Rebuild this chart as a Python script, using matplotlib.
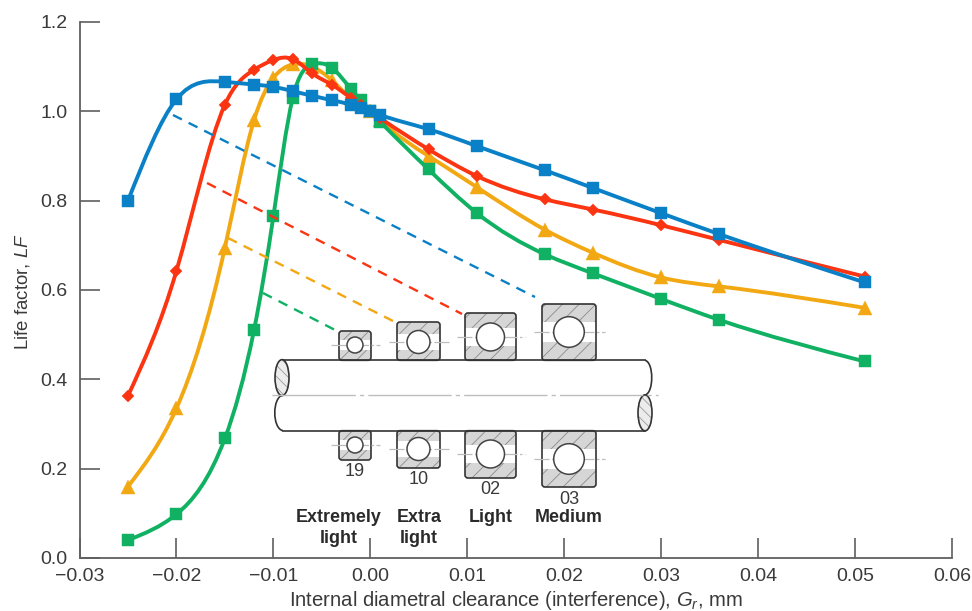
import matplotlib
matplotlib.use("Agg")
import numpy as np
import matplotlib.pyplot as plt
from matplotlib.path import Path
from matplotlib.patches import PathPatch, FancyBboxPatch, Rectangle, Circle, Ellipse

plt.rcParams['font.family'] = ['Liberation Sans', 'DejaVu Sans']
plt.rcParams['mathtext.fontset'] = 'custom'
plt.rcParams['mathtext.rm'] = 'Liberation Sans'
plt.rcParams['mathtext.it'] = 'Liberation Sans:italic'
plt.rcParams['hatch.linewidth'] = 0.6

x_blue = [-0.025, -0.02, -0.015, -0.012, -0.01, -0.008, -0.006, -0.004, -0.002, -0.001, 0.0, 0.001, 0.006, 0.011, 0.018, 0.023, 0.03, 0.036, 0.051]
blue = [0.80, 1.027, 1.066, 1.06, 1.055, 1.045, 1.035, 1.025, 1.015, 1.008, 1.0, 0.992, 0.96, 0.922, 0.868, 0.828, 0.772, 0.725, 0.617]
x_red = x_blue
red = [0.363, 0.643, 1.015, 1.093, 1.115, 1.117, 1.085, 1.06, 1.03, 1.015, 1.0, 0.985, 0.915, 0.855, 0.803, 0.78, 0.745, 0.712, 0.63]
x_yellow = [-0.025, -0.02, -0.015, -0.012, -0.01, -0.008, -0.006, -0.004, -0.002, 0.0, 0.001, 0.006, 0.011, 0.018, 0.023, 0.03, 0.036, 0.051]
yellow = [0.16, 0.335, 0.695, 0.98, 1.075, 1.105, 1.10, 1.07, 1.03, 1.0, 0.98, 0.90, 0.83, 0.735, 0.683, 0.628, 0.608, 0.56]
x_green = x_blue
green = [0.04, 0.098, 0.268, 0.51, 0.765, 1.03, 1.105, 1.098, 1.05, 1.025, 1.0, 0.977, 0.87, 0.772, 0.68, 0.637, 0.58, 0.533, 0.44]
x_ticks = [-0.03, -0.02, -0.01, 0.0, 0.01, 0.02, 0.03, 0.04, 0.05, 0.06]
y_ticks = [0.0, 0.2, 0.4, 0.6, 0.8, 1.0, 1.2]
bearing_codes = ['19', '10', '02', '03']

C_BLUE, C_RED, C_YEL, C_GRN = '#0a80c6', '#fb3412', '#f2a813', '#10b163'
AXC = '#5f5f5f'
TXT = '#3a3a3a'

W, H = 972, 611
fig = plt.figure(figsize=(W / 100, H / 100), dpi=100, facecolor='white')
ax = fig.add_axes([79.5 / W, (H - 558) / H, (952 - 79.5) / W, (558 - 22) / H])


def smooth_path(x, y):
    # C2 natural cubic spline through the points, written as Bezier segments
    x, y = np.asarray(x), np.asarray(y)
    n = len(x)
    dx = np.diff(x)
    s = np.diff(y) / dx
    A = np.zeros((n, n))
    b = np.zeros(n)
    A[0, 0] = A[-1, -1] = 1.0
    for i in range(1, n - 1):
        A[i, i - 1] = dx[i - 1]
        A[i, i] = 2 * (dx[i - 1] + dx[i])
        A[i, i + 1] = dx[i]
        b[i] = 6 * (s[i] - s[i - 1])
    k = np.linalg.solve(A, b)
    m = np.empty(n)
    m[:-1] = s - dx * (2 * k[:-1] + k[1:]) / 6
    m[-1] = s[-1] + dx[-1] * (k[-2] + 2 * k[-1]) / 6
    verts, codes = [(x[0], y[0])], [Path.MOVETO]
    for i in range(n - 1):
        h = dx[i] / 3
        verts += [(x[i] + h, y[i] + m[i] * h), (x[i + 1] - h, y[i + 1] - m[i + 1] * h), (x[i + 1], y[i + 1])]
        codes += [Path.CURVE4] * 3
    return Path(verts, codes)


series = [(x_yellow, yellow, C_YEL, '^', 10), (x_green, green, C_GRN, 's', 9),
          (x_red, red, C_RED, 'D', 6.6), (x_blue, blue, C_BLUE, 's', 9)]
for i, (xs, ys, c, mk, ms) in enumerate(series):
    ax.add_patch(PathPatch(smooth_path(xs, ys), fc='none', ec=c, lw=2.8, zorder=3 + i, capstyle='round'))
    ax.plot(xs, ys, ls='none', marker=mk, ms=ms, mfc=c, mec=c, mew=0.3, zorder=3 + i)

ax.set_xlim(-0.03, 0.06)
ax.set_ylim(0, 1.2)
ax.set_xticks(x_ticks)
ax.set_yticks(y_ticks)
ax.set_xticklabels([f'{v:.2f}'.replace('-', '\u2212') for v in x_ticks])
ax.set_yticklabels([f'{v:.1f}' for v in y_ticks])
ax.tick_params(axis='both', direction='in', length=14.4, width=1.2, color=AXC, labelsize=14, labelcolor=TXT)
ax.tick_params(axis='x', pad=7)
ax.tick_params(axis='y', pad=8.5)
for sp in ('top', 'right'):
    ax.spines[sp].set_visible(False)
for sp in ('left', 'bottom'):
    ax.spines[sp].set_color(AXC)
    ax.spines[sp].set_linewidth(1.3)
ax.patch.set_visible(False)

# schematic overlay, in figure pixels
ov = fig.add_axes([0, 0, 1, 1])
ov.set_xlim(0, W)
ov.set_ylim(H, 0)
ov.axis('off')
ov.patch.set_visible(False)

dashes = [((173, 115), (535, 297), C_BLUE), ((207, 183), (462, 314), C_RED),
          ((228, 238), (393, 321), C_YEL), ((263, 293), (337, 331), C_GRN)]
for a, b, c in dashes:
    ov.plot([a[0], b[0]], [a[1], b[1]], color=c, lw=1.7, dashes=(4.2, 3.2))

# shaft
OUT = '#333333'
SH_T, SH_B, SH_C = 360.3, 430.7, 395
SH_L, SH_R = 283, 645
shaft = Path([(SH_L, SH_T), (SH_R, SH_T), (SH_R + 9, SH_T + 2), (SH_R + 9, SH_C - 2), (SH_R, SH_C),
              (SH_R, SH_B), (SH_L, SH_B), (SH_L - 11, SH_B - 2), (SH_L - 11, SH_C + 2), (SH_L, SH_C), (SH_L, SH_T)],
             [Path.MOVETO, Path.LINETO, Path.CURVE4, Path.CURVE4, Path.CURVE4,
              Path.LINETO, Path.LINETO, Path.CURVE4, Path.CURVE4, Path.CURVE4, Path.LINETO])
ov.add_patch(PathPatch(shaft, fc='white', ec='none', zorder=5))
ov.plot([SH_L, SH_R], [SH_T, SH_T], color=OUT, lw=1.2, zorder=6)
ov.plot([SH_L, SH_R], [SH_B, SH_B], color=OUT, lw=1.2, zorder=6)
for path in (Path([(SH_R, SH_T), (SH_R + 9, SH_T + 2), (SH_R + 9, SH_C - 2), (SH_R, SH_C)], [Path.MOVETO] + [Path.CURVE4] * 3),
             Path([(SH_L, SH_B), (SH_L - 11, SH_B - 2), (SH_L - 11, SH_C + 2), (SH_L, SH_C)], [Path.MOVETO] + [Path.CURVE4] * 3)):
    ov.add_patch(PathPatch(path, fc='none', ec=OUT, lw=1.2, zorder=6))
for cx, cy in ((282, (SH_T + SH_C) / 2), (645, (SH_C + SH_B) / 2)):
    ov.add_patch(Ellipse((cx, cy), 14, 36, fc='#ececec', ec='#9a9a9a', hatch='\\\\\\', lw=0, zorder=6))
    ov.add_patch(Ellipse((cx, cy), 14, 36, fc='none', ec=OUT, lw=1.2, zorder=7))
ov.plot([272, 658], [SH_C, SH_C], color='#bdbdbd', lw=1.0, zorder=8, dashes=(60, 3, 3, 3))


def bearing(x0, x1, y0, y1, cy, r, hatch):
    top, h, w = min(y0, y1), abs(y1 - y0), x1 - x0
    box = dict(boxstyle='round,pad=0,rounding_size=3')
    ov.add_patch(FancyBboxPatch((x0, top), w, h, fc='#d6d6d6', ec='#8a8a8a', lw=0, hatch=hatch, zorder=5, **box))
    ov.add_patch(Rectangle((x0, cy - 0.66 * r), w, 1.32 * r, fc='white', ec='none', zorder=5.1))
    ov.add_patch(FancyBboxPatch((x0, top), w, h, fc='none', ec=OUT, lw=1.2, zorder=5.2, **box))
    ov.plot([x0 - 8, x1 + 9], [cy, cy], color='#bdbdbd', lw=0.9, zorder=5.3, dashes=(12, 2, 2, 2))
    ov.add_patch(Circle(((x0 + x1) / 2, cy), r, fc='white', ec='#444444', lw=1.1, zorder=5.4))


geom = [(339, 371, 331, 460, 345, 445, 8, 355, 472),
        (397, 440, 322, 468, 342, 449, 11.5, 419, 480),
        (465, 516, 313, 478, 337, 454, 14, 490, 490),
        (542, 596, 304, 487, 332, 459, 15.3, 569, 499)]
for (x0, x1, yt, yb, ct, cb, r, tx, ty), code in zip(geom, bearing_codes):
    bearing(x0, x1, yt, SH_T, ct, r, '//')
    bearing(x0, x1, SH_B, yb, cb, r, '//')
    ov.text(tx, ty, code, ha='center', va='center', fontsize=13, color=TXT)

for tx, label in ((339, 'Extremely\nlight'), (419, 'Extra\nlight'), (491, 'Light'), (569, 'Medium')):
    ov.text(tx, 509.5, label, ha='center', va='top', fontsize=12.9, fontweight='bold', color='#2a2a2a',
            linespacing=1.3)

ov.text(22, 292, 'Life factor, $LF$', rotation=90, ha='center', va='center', fontsize=13.4, color=TXT)
ov.text(516, 601, 'Internal diametral clearance (interference), $G_r$, mm', ha='center', va='center',
        fontsize=14.6, color=TXT)

fig.savefig('out.png', dpi=100)
